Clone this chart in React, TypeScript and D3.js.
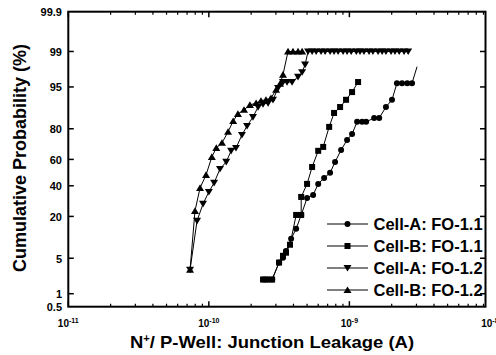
import React from 'react';
import * as d3 from 'd3';

// ---- data: junction leakage (A) and cumulative probability (%) ----
const cellA11_I = [2.43e-10, 2.6e-10, 2.82e-10, 3.16e-10, 3.37e-10, 3.54e-10, 3.85e-10, 4.18e-10, 4.54e-10, 5.0e-10, 5.52e-10, 6.0e-10, 6.61e-10, 7.29e-10, 7.91e-10, 8.73e-10, 9.63e-10, 1.045e-9, 1.135e-9, 1.232e-9, 1.315e-9, 1.5e-9, 1.63e-9, 1.82e-9, 2.01e-9, 2.18e-9, 2.37e-9, 2.58e-9, 2.79e-9, 3.03e-9];
const cellA11_P = [2.0, 2.0, 2.0, 4.2, 5.1, 6.6, 10.2, 14.0, 20.8, 31.3, 33.4, 41.4, 45.9, 49.8, 58.1, 66.8, 73.5, 77.1, 83.5, 83.5, 83.5, 85.3, 85.3, 89.6, 91.9, 95.7, 95.7, 95.7, 95.7, 97.9];

const cellB11_I = [2.43e-10, 2.6e-10, 2.82e-10, 3.16e-10, 3.37e-10, 3.54e-10, 3.78e-10, 4.18e-10, 4.54e-10, 4.54e-10, 5.0e-10, 5.43e-10, 6.0e-10, 6.51e-10, 7.18e-10, 7.78e-10, 8.59e-10, 9.47e-10, 1.045e-9, 1.153e-9];
const cellB11_P = [2.0, 2.0, 2.0, 4.2, 5.5, 6.2, 8.3, 20.8, 20.8, 32.0, 41.4, 54.3, 66.2, 68.9, 81.0, 87.4, 89.6, 91.9, 93.9, 95.9];

const cellA12_I = [7.35e-11, 8.24e-11, 9.09e-11, 1.0e-10, 1.09e-10, 1.2e-10, 1.33e-10, 1.44e-10, 1.56e-10, 1.72e-10, 1.87e-10, 2.06e-10, 2.24e-10, 2.43e-10, 2.64e-10, 2.86e-10, 3.11e-10, 3.37e-10, 3.6e-10, 3.91e-10, 4.31e-10, 4.61e-10, 4.84e-10, 5.08e-10,
  5.43e-10, 5.8e-10, 6.29e-10, 6.72e-10, 7.29e-10, 7.78e-10, 8.31e-10, 9.02e-10, 9.63e-10, 1.03e-9, 1.12e-9, 1.19e-9, 1.27e-9, 1.38e-9, 1.47e-9, 1.6e-9, 1.71e-9, 1.82e-9, 1.98e-9, 2.11e-9, 2.26e-9, 2.45e-9, 2.62e-9];
const cellA12_P = [3.1, 17.7, 27.4, 35.5, 42.2, 52.8, 58.2, 66.2, 68.2, 76.5, 81.5, 85.7, 89.6, 90.6, 90.9, 91.9, 94.8, 95.9, 95.9, 95.9, 96.7, 97.3, 98.1, 99,
  99, 99, 99, 99, 99, 99, 99, 99, 99, 99, 99, 99, 99, 99, 99, 99, 99, 99, 99, 99, 99, 99, 99];

const cellB12_I = [7.35e-11, 7.97e-11, 8.66e-11, 9.55e-11, 1.05e-10, 1.13e-10, 1.24e-10, 1.37e-10, 1.49e-10, 1.61e-10, 1.78e-10, 1.96e-10, 2.17e-10, 2.35e-10, 2.55e-10, 2.77e-10, 3.01e-10, 3.21e-10, 3.37e-10, 3.66e-10, 3.97e-10, 4.31e-10, 4.61e-10];
const cellB12_P = [3.1, 23.1, 38.4, 48.2, 61.8, 68.2, 71.6, 78.3, 83.9, 87.0, 88.6, 90.3, 90.9, 91.6, 91.9, 92.4, 94.4, 95.6, 97.0, 99, 99, 99, 99];

const seriesNames = ['Cell-A: FO-1.1', 'Cell-B: FO-1.1', 'Cell-A: FO-1.2', 'Cell-B: FO-1.2'];
const seriesMarkers = ['circle', 'square', 'down', 'up'];

const yTickValues = [0.5, 1, 5, 20, 40, 60, 80, 95, 99, 99.9];
const yTickLabels = ['0.5', '1', '5', '20', '40', '60', '80', '95', '99', '99.9'];
const xMajorExps = [-11, -10, -9, -8];
const xDomain = [1e-11, 9.3e-9];

// inverse standard normal CDF (Acklam)
function probit(p: number): number {
  const a = [-39.69683028665376, 220.9460984245205, -275.9285104469687, 138.357751867269, -30.66479806614716, 2.506628277459239];
  const b = [-54.47609879822406, 161.5858368580409, -155.6989798598866, 66.80131188771972, -13.28068155288572];
  const c = [-0.007784894002430293, -0.3223964580411365, -2.400758277161838, -2.549732539343734, 4.374664141464968, 2.938163982698783];
  const d = [0.007784695709041462, 0.3224671290700398, 2.445134137142996, 3.754408661907416];
  const pl = 0.02425;
  if (p < pl) {
    const q = Math.sqrt(-2 * Math.log(p));
    return (((((c[0] * q + c[1]) * q + c[2]) * q + c[3]) * q + c[4]) * q + c[5]) / ((((d[0] * q + d[1]) * q + d[2]) * q + d[3]) * q + 1);
  }
  if (p <= 1 - pl) {
    const q = p - 0.5, r = q * q;
    return (((((a[0] * r + a[1]) * r + a[2]) * r + a[3]) * r + a[4]) * r + a[5]) * q / (((((b[0] * r + b[1]) * r + b[2]) * r + b[3]) * r + b[4]) * r + 1);
  }
  const q = Math.sqrt(-2 * Math.log(1 - p));
  return -(((((c[0] * q + c[1]) * q + c[2]) * q + c[3]) * q + c[4]) * q + c[5]) / ((((d[0] * q + d[1]) * q + d[2]) * q + d[3]) * q + 1);
}

const W = 496, H = 355;
const L = 68.3, R = 485.5, T = 11.7, B = 306.7;
const FONT = 'Liberation Sans, Arial, Helvetica, sans-serif';

const x = d3.scaleLog().domain(xDomain).range([L, R]);
const yz = d3.scaleLinear().domain([probit(0.005), probit(0.999)]).range([B, T]);
const y = (p: number) => yz(probit(p / 100));

function Marker({ kind, cx, cy }: { kind: string; cx: number; cy: number }) {
  if (kind === 'circle') return <circle cx={cx} cy={cy} r={3} fill="#000" />;
  if (kind === 'square') return <rect x={cx - 3} y={cy - 3} width={6} height={6} fill="#000" />;
  if (kind === 'up') return <path d={`M${cx},${cy - 3.6}L${cx + 4},${cy + 3}L${cx - 4},${cy + 3}Z`} fill="#000" />;
  return <path d={`M${cx},${cy + 3.6}L${cx + 4},${cy - 3}L${cx - 4},${cy - 3}Z`} fill="#000" />;
}

export default function App() {
  const series = [
    { I: cellA11_I, P: cellA11_P, noLastMarker: true },
    { I: cellB11_I, P: cellB11_P, noLastMarker: false },
    { I: cellA12_I, P: cellA12_P, noLastMarker: false },
    { I: cellB12_I, P: cellB12_P, noLastMarker: false },
  ];
  const line = d3.line<[number, number]>().x(d => x(d[0])).y(d => y(d[1]));

  const minorTicks: number[] = [];
  for (const e of [-11, -10, -9]) {
    for (let m = 2; m <= 9; m++) {
      const v = m * Math.pow(10, e);
      if (v <= xDomain[1]) minorTicks.push(v);
    }
  }
  const majorTicks = xMajorExps.map(e => Math.pow(10, e)).filter(v => v <= xDomain[1]);

  const legendRows = [224, 246, 268, 290];

  return (
    <svg width={W} height={H} style={{ position: 'absolute', left: 0, top: 0, background: '#fff' }} fontFamily={FONT}>
      {/* series lines */}
      {series.map((s, i) => {
        const pts = s.I.map((v, j) => [v, s.P[j]] as [number, number]);
        return <path key={'l' + i} d={line(pts) || ''} fill="none" stroke="#000" strokeWidth={1} />;
      })}
      {/* markers */}
      {series.map((s, i) =>
        s.I.map((v, j) => {
          if (s.noLastMarker && j === s.I.length - 1) return null;
          return <Marker key={`m${i}-${j}`} kind={seriesMarkers[i]} cx={x(v)} cy={y(s.P[j])} />;
        })
      )}

      {/* frame */}
      <rect x={L} y={T} width={R - L} height={B - T} fill="none" stroke="#000" strokeWidth={2} />

      {/* x ticks bottom & top */}
      {minorTicks.map((v, i) => (
        <g key={'mt' + i}>
          <line x1={x(v)} x2={x(v)} y1={B} y2={B - 3} stroke="#000" strokeWidth={1.2} />
          <line x1={x(v)} x2={x(v)} y1={T} y2={T + 3} stroke="#000" strokeWidth={1.2} />
        </g>
      ))}
      {majorTicks.map((v, i) => (
        <g key={'Mt' + i}>
          <line x1={x(v)} x2={x(v)} y1={B} y2={B - 5.5} stroke="#000" strokeWidth={1.5} />
          <line x1={x(v)} x2={x(v)} y1={T} y2={T + 5.5} stroke="#000" strokeWidth={1.5} />
        </g>
      ))}
      {xMajorExps.map((e, i) => (
        <text key={'xl' + i} x={x(Math.pow(10, e))} y={327} textAnchor="middle" fontSize={10} fontWeight="bold">
          10<tspan dy={-4.5} fontSize={7}>{String(e)}</tspan>
        </text>
      ))}

      {/* y ticks left & right */}
      {yTickValues.map((p, i) => (
        <g key={'yt' + i}>
          {p !== 0.5 && p !== 99.9 && (
            <>
              <line x1={L} x2={L + 5.5} y1={y(p)} y2={y(p)} stroke="#000" strokeWidth={1.5} />
              <line x1={R} x2={R - 5.5} y1={y(p)} y2={y(p)} stroke="#000" strokeWidth={1.5} />
            </>
          )}
          <text x={62} y={y(p) + 4.5} textAnchor="end" fontSize={11} fontWeight="bold">{yTickLabels[i]}</text>
        </g>
      ))}

      {/* axis titles */}
      <text transform="translate(26,158) rotate(-90)" textAnchor="middle" fontSize={18} fontWeight="bold">
        Cumulative Probability (%)
      </text>
      <text transform="translate(272,348) scale(1.12,1)" textAnchor="middle" fontSize={16.5} fontWeight="bold">
        N<tspan dy={-6} fontSize={10}>+</tspan><tspan dy={6}>/ P-Well: Junction Leakage (A)</tspan>
      </text>

      {/* legend */}
      {seriesNames.map((name, i) => (
        <g key={'lg' + i}>
          <line x1={327} x2={368} y1={legendRows[i]} y2={legendRows[i]} stroke="#000" strokeWidth={1} />
          <Marker kind={seriesMarkers[i]} cx={347.5} cy={legendRows[i]} />
          <text x={373.5} y={legendRows[i] + 6} fontSize={16.5} fontWeight="bold">{name}</text>
        </g>
      ))}
    </svg>
  );
}
